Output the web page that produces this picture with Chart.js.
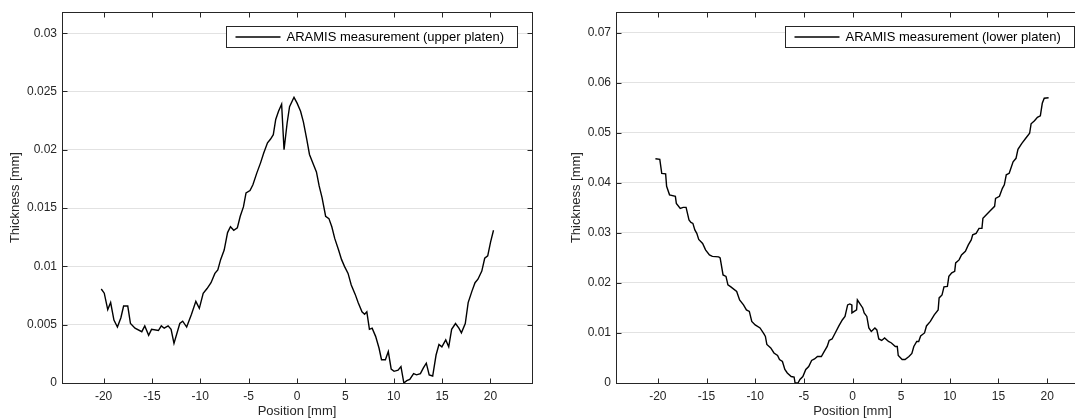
<!DOCTYPE html>
<html><head><meta charset="utf-8">
<script src="https://cdn.jsdelivr.net/npm/chart.js@4/dist/chart.umd.min.js"></script>
<style>
html,body{margin:0;padding:0;background:#fff;overflow:hidden;width:1075px;height:419px;}
#w1{position:absolute;left:0;top:0;width:537px;height:419px;}
#w2{position:absolute;left:537px;top:0;width:560px;height:419px;}
</style></head><body>
<div id="w1"><canvas id="c1"></canvas></div>
<div id="w2"><canvas id="c2"></canvas></div>
<script>
const upperX = [-20.24,-19.93,-19.57,-19.27,-18.93,-18.57,-18.21,-17.93,-17.5,-17.22,-16.75,-16.05,-15.74,-15.34,-15.04,-14.33,-14.03,-13.73,-13.33,-13.02,-12.72,-12.12,-11.82,-11.41,-10.91,-10.46,-10.1,-9.7,-9.3,-8.89,-8.49,-8.19,-7.89,-7.53,-7.18,-6.88,-6.54,-6.17,-5.87,-5.54,-5.27,-4.86,-4.56,-4.16,-3.76,-3.45,-3.05,-2.75,-2.45,-2.2,-1.91,-1.59,-1.34,-1.02,-0.77,-0.31,0.01,0.37,0.66,1.01,1.29,1.72,2.01,2.29,2.59,2.96,3.3,3.6,3.9,4.3,4.6,4.91,5.28,5.61,6.02,6.32,6.72,6.99,7.22,7.49,7.77,8.13,8.48,8.74,9.14,9.44,9.74,10.04,10.45,10.75,11.05,11.35,11.66,12.06,12.36,12.76,13.07,13.37,13.67,14.03,14.38,14.68,14.98,15.38,15.69,15.99,16.39,16.74,17.0,17.4,17.7,18.1,18.41,18.71,19.11,19.41,19.72,20.02,20.32];
const upperY = [0.00806,0.0077,0.0063,0.0069,0.0054,0.0048,0.0056,0.0066,0.0066,0.0051,0.0047,0.0044,0.0049,0.0041,0.0046,0.0045,0.0049,0.0047,0.0049,0.0046,0.0034,0.0051,0.0053,0.0048,0.0059,0.0070,0.0064,0.0077,0.0081,0.0086,0.0094,0.0097,0.0106,0.0114,0.0129,0.0134,0.0131,0.0133,0.0143,0.0151,0.0163,0.0165,0.0170,0.0180,0.0189,0.0197,0.0206,0.0209,0.0213,0.0226,0.0233,0.0239,0.0200,0.0223,0.0237,0.0245,0.0240,0.0233,0.0224,0.0209,0.0196,0.0187,0.0181,0.0169,0.0159,0.0143,0.0141,0.0134,0.0124,0.0114,0.0106,0.0100,0.0094,0.0084,0.0076,0.0069,0.0061,0.0059,0.0061,0.0046,0.0047,0.0040,0.0030,0.0020,0.0020,0.0027,0.0012,0.0010,0.0011,0.0014,0.0000,0.0002,0.0003,0.0008,0.0007,0.0008,0.0013,0.0017,0.0007,0.0006,0.0024,0.0033,0.0031,0.0037,0.0031,0.0046,0.0051,0.0047,0.0043,0.0051,0.0069,0.0079,0.0086,0.0089,0.0096,0.0107,0.0109,0.0121,0.0131];
const lowerX = [-20.25,-19.8,-19.6,-19.2,-19.1,-18.8,-18.2,-18.1,-17.7,-17.4,-17.1,-16.8,-16.6,-16.4,-16.2,-16.0,-15.8,-15.4,-15.1,-14.7,-14.4,-13.75,-13.6,-13.3,-13.0,-12.8,-12.5,-11.9,-11.6,-11.2,-10.9,-10.6,-10.35,-10.0,-9.5,-9.1,-8.95,-8.8,-8.4,-8.07,-7.7,-7.5,-7.2,-6.95,-6.7,-6.3,-6.0,-5.9,-5.6,-5.4,-5.1,-4.8,-4.5,-4.2,-3.9,-3.6,-3.2,-2.9,-2.6,-2.4,-2.1,-1.75,-1.4,-1.05,-0.77,-0.5,-0.28,-0.07,-0.06,0.18,0.42,0.5,0.77,1.05,1.2,1.47,1.68,1.93,2.3,2.5,2.7,3.0,3.3,3.7,4.0,4.4,4.6,4.7,5.1,5.4,5.8,6.1,6.3,6.6,6.8,7.0,7.4,7.6,8.0,8.4,8.8,8.9,9.2,9.4,9.75,9.9,10.2,10.5,10.6,10.95,11.2,11.6,11.9,12.2,12.35,12.7,13.0,13.3,13.4,13.9,14.2,14.6,14.7,15.1,15.4,15.6,15.8,16.1,16.5,16.8,17.0,17.4,17.8,18.2,18.35,18.7,19.0,19.3,19.5,19.7,20.15];
const lowerY = [0.0448,0.0447,0.0419,0.0418,0.0393,0.0376,0.0373,0.0359,0.0349,0.0351,0.0351,0.0326,0.0321,0.0319,0.0306,0.0299,0.0287,0.0279,0.0266,0.0256,0.0253,0.0252,0.0250,0.0216,0.0213,0.0196,0.0192,0.0183,0.0166,0.0156,0.0146,0.0143,0.0123,0.0116,0.0110,0.0098,0.0093,0.0077,0.0070,0.0060,0.0055,0.0047,0.0043,0.0027,0.0020,0.0013,0.0012,0.0000,0.0000,0.0007,0.0013,0.0027,0.0033,0.0045,0.0048,0.0053,0.0053,0.0063,0.0073,0.0085,0.0088,0.0101,0.0114,0.0126,0.0133,0.0156,0.0158,0.0156,0.0140,0.0143,0.0146,0.0166,0.0158,0.0150,0.0140,0.0133,0.0110,0.0103,0.0110,0.0106,0.0088,0.0085,0.0090,0.0083,0.0080,0.0073,0.0073,0.0055,0.0047,0.0047,0.0053,0.0059,0.0073,0.0083,0.0083,0.0094,0.0100,0.0114,0.0123,0.0136,0.0146,0.0170,0.0176,0.0192,0.0193,0.0213,0.0220,0.0223,0.0240,0.0246,0.0256,0.0263,0.0276,0.0286,0.0296,0.0299,0.0309,0.0309,0.0329,0.0339,0.0345,0.0353,0.0369,0.0373,0.0389,0.0396,0.0416,0.0419,0.0442,0.0449,0.0467,0.0479,0.0489,0.0499,0.0518,0.0524,0.0531,0.0534,0.0559,0.0569,0.0570];
const xTicks = [-20,-15,-10,-5,0,5,10,15,20];
const upperYTicks = [0,0.005,0.01,0.015,0.02,0.025,0.03];
const lowerYTicks = [0,0.01,0.02,0.03,0.04,0.05,0.06,0.07];
const xLimits = [-24.3, 24.3];
const upperYMax = 0.0318;
const lowerYMax = 0.0741;
const upperLabel = 'ARAMIS measurement (upper platen)';
const lowerLabel = 'ARAMIS measurement (lower platen)';
const xTitle = 'Position [mm]';
const yTitle = 'Thickness [mm]';

const FONT = '"Liberation Sans", Arial, Helvetica, sans-serif';
const AX = '#262626';
Chart.defaults.font.family = FONT;
Chart.defaults.color = AX;

const framePlugin = {
  id: 'frame',
  afterDraw(chart) {
    const {ctx, chartArea: a, scales: {x, y}} = chart;
    ctx.save();
    ctx.strokeStyle = AX; ctx.lineWidth = 1;
    ctx.beginPath();
    const L = Math.round(a.left) + 0.5, R = Math.round(a.right) + 0.5;
    const T = Math.round(a.top) + 0.5, B = Math.round(a.bottom) + 0.5;
    for (const t of x.ticks) {
      const px = Math.round(x.getPixelForValue(t.value)) + 0.5;
      ctx.moveTo(px, B); ctx.lineTo(px, B - 5);
      ctx.moveTo(px, T); ctx.lineTo(px, T + 5);
    }
    for (const t of y.ticks) {
      const py = Math.round(y.getPixelForValue(t.value)) + 0.5;
      ctx.moveTo(L, py); ctx.lineTo(L + 5, py);
      ctx.moveTo(R, py); ctx.lineTo(R - 5, py);
    }
    ctx.stroke();
    ctx.strokeRect(L, T, R - L, B - T);
    // legend
    const ds = chart.data.datasets[0];
    ctx.font = '13px ' + FONT;
    const tw = ctx.measureText(ds.label).width;
    const bw = Math.round(9 + 45 + 6 + tw + 14), bh = 21;
    const right = Math.round(a.right - 15) + 0.5;
    const left = right - bw, top = Math.round(a.top + 14) + 0.5;
    ctx.fillStyle = '#fff';
    ctx.fillRect(left, top, bw, bh);
    ctx.strokeStyle = AX;
    ctx.strokeRect(left, top, bw, bh);
    ctx.beginPath();
    ctx.strokeStyle = ds.borderColor; ctx.lineWidth = ds.borderWidth;
    ctx.moveTo(left + 9, top + bh / 2); ctx.lineTo(left + 54, top + bh / 2);
    ctx.stroke();
    ctx.fillStyle = '#000';
    ctx.textBaseline = 'middle'; ctx.textAlign = 'left';
    ctx.fillText(ds.label, left + 60, top + bh / 2 + 0.5);
    ctx.restore();
  }
};

function makeChart(id, xs, ys, label, yTicks, yMax, pad, yWidth) {
  const pts = xs.map((v, i) => ({x: v, y: ys[i]}));
  return new Chart(document.getElementById(id), {
    type: 'line',
    data: {datasets: [{label: label, data: pts, borderColor: '#000', borderWidth: 1.4,
      pointRadius: 0, tension: 0, fill: false}]},
    options: {
      responsive: true, maintainAspectRatio: false, animation: false,
      layout: {padding: pad},
      plugins: {legend: {display: false}, tooltip: {enabled: false}},
      scales: {
        x: {
          type: 'linear', min: xLimits[0], max: xLimits[1],
          afterBuildTicks: s => { s.ticks = xTicks.map(v => ({value: v})); },
          afterFit: s => { s.height = 36; },
          grid: {display: false, drawTicks: false},
          border: {display: false},
          ticks: {font: {size: 12}, padding: 6, color: AX, maxRotation: 0, autoSkip: false,
            callback: v => String(v)},
          title: {display: true, text: xTitle, font: {size: 13}, color: AX, padding: {top: 0, bottom: 0}}
        },
        y: {
          type: 'linear', min: 0, max: yMax,
          afterBuildTicks: s => { s.ticks = yTicks.map(v => ({value: v})); },
          afterFit: s => { s.width = yWidth; },
          grid: {color: '#e2e2e2', lineWidth: 1, drawTicks: false},
          border: {display: false},
          ticks: {font: {size: 12}, padding: 5, color: AX, autoSkip: false,
            callback: v => String(v)},
          title: {display: true, text: yTitle, font: {size: 13}, color: AX, padding: {top: 8, bottom: 0}}
        }
      }
    },
    plugins: [framePlugin]
  });
}

makeChart('c1', upperX, upperY, upperLabel, upperYTicks, upperYMax,
  {left: 0, top: 12, right: 5, bottom: 0}, 62);
makeChart('c2', lowerX, lowerY, lowerLabel, lowerYTicks, lowerYMax,
  {left: 24, top: 12, right: 8, bottom: 0}, 55);
</script>
</body></html>
